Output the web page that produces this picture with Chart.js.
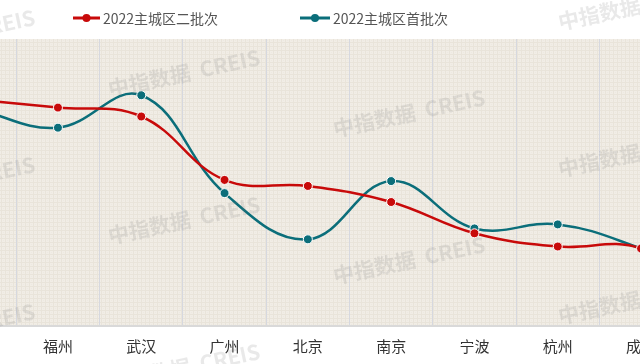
<!DOCTYPE html>
<html>
<head>
<meta charset="utf-8">
<script src="https://cdn.jsdelivr.net/npm/chart.js@4.4.1/dist/chart.umd.min.js"></script>
<style>
  body { margin: 0; overflow: hidden; background: #fff; }
  #wrap { position: absolute; left: -67px; top: 0; width: 833px; height: 364px; }
</style>
</head>
<body>
<div id="wrap"><canvas id="c" width="833" height="364"></canvas></div>
<script>
// categories (first and last sit outside the visible window)
var cities = ['合肥', '福州', '武汉', '广州', '北京', '南京', '宁波', '杭州', '成都', '重庆'];
// 2022主城区二批次
var batch2 = [78.9, 76.1, 73.0, 50.9, 48.8, 43.2, 32.3, 27.7, 27.0, 8.0];
// 2022主城区首批次
var batch1 = [75.8, 69.1, 80.4, 46.3, 30.2, 50.5, 34.0, 35.4, 27.0, 15.0];

var legendNames = ['2022主城区二批次', '2022主城区首批次'];
var SHIFT = 67; // canvas sits 67px left of the page edge

// beige woven background
function makePattern(ctx) {
  var p = document.createElement('canvas');
  p.width = 4; p.height = 4;
  var g = p.getContext('2d');
  g.fillStyle = '#F1EDE6';
  g.fillRect(0, 0, 4, 4);
  g.fillStyle = '#E9E4DA';
  g.fillRect(0, 0, 1, 4);
  g.fillRect(0, 2, 4, 1);
  g.fillStyle = '#EDE9E0';
  g.fillRect(2, 0, 1, 1);
  return ctx.createPattern(p, 'repeat');
}

const background = {
  id: 'background',
  beforeDraw(chart) {
    var ctx = chart.ctx, a = chart.chartArea;
    ctx.save();
    ctx.fillStyle = '#fff';
    ctx.fillRect(0, 0, chart.width, chart.height);
    ctx.fillStyle = makePattern(ctx);
    ctx.fillRect(a.left, a.top, a.right - a.left, a.bottom - a.top);
    ctx.restore();
  }
};

const topLegend = {
  id: 'topLegend',
  afterDraw(chart) {
    var ctx = chart.ctx;
    var starts = [73, 300];
    var widths = [27, 30];
    ctx.save();
    chart.data.datasets.forEach(function (ds, i) {
      var x = starts[i] + SHIFT, y = 18;
      ctx.strokeStyle = ds.borderColor;
      ctx.lineWidth = 3;
      ctx.beginPath();
      ctx.moveTo(x, y);
      ctx.lineTo(x + widths[i], y);
      ctx.stroke();
      ctx.fillStyle = ds.borderColor;
      ctx.beginPath();
      ctx.arc(x + widths[i] / 2, y, 4, 0, Math.PI * 2);
      ctx.fill();
      ctx.fillStyle = '#555';
      ctx.font = '14px "Noto Sans CJK SC"';
      ctx.textBaseline = 'middle';
      ctx.fillText(legendNames[i], x + widths[i] + 3, y + 1);
    });
    ctx.restore();
  }
};

const watermark = {
  id: 'watermark',
  afterDraw(chart) {
    var ctx = chart.ctx;
    ctx.save();
    ctx.fillStyle = 'rgba(120,120,120,0.16)';
    ctx.font = 'bold 21px "Noto Sans CJK SC"';
    ctx.textBaseline = 'alphabetic';
    for (var i = 0; i < 4; i++) {
      for (var j = -1; j < 3; j++) {
        var x = -115 + 225 * i + SHIFT;
        var y = 57 + 40 * i + 147 * j;
        ctx.save();
        ctx.translate(x, y);
        ctx.rotate(-12 * Math.PI / 180);
        ctx.fillText('中指数据  CREIS', 0, 0);
        ctx.restore();
      }
    }
    ctx.restore();
  }
};

var ctx_c = document.getElementById('c');
var chart = new Chart(ctx_c, {
  type: 'line',
  data: {
    labels: cities,
    datasets: [
      {
        label: legendNames[0],
        data: batch2,
        borderColor: '#C80A0A',
        backgroundColor: '#C80A0A',
        borderWidth: 2.5,
        tension: 0.4,
        fill: false,
        pointRadius: 4.5,
        pointBackgroundColor: '#C80A0A',
        pointBorderColor: '#fff',
        pointBorderWidth: 1
      },
      {
        label: legendNames[1],
        data: batch1,
        borderColor: '#0B6E7A',
        backgroundColor: '#0B6E7A',
        borderWidth: 2.5,
        tension: 0.4,
        fill: false,
        pointRadius: 4.5,
        pointBackgroundColor: '#0B6E7A',
        pointBorderColor: '#fff',
        pointBorderWidth: 1
      }
    ]
  },
  options: {
    responsive: false,
    animation: false,
    devicePixelRatio: 1,
    layout: { autoPadding: false, padding: { top: 39, bottom: -2, left: 0, right: 0 } },
    plugins: {
      legend: { display: false },
      tooltip: { enabled: false }
    },
    scales: {
      x: {
        offset: true,
        grid: { offset: true, color: '#D6D8DF', lineWidth: 1, drawTicks: false },
        border: { color: '#D9D9D9', width: 2 },
        ticks: {
          color: '#333',
          padding: 11,
          maxRotation: 0,
          autoSkip: false,
          font: { family: '"Noto Sans CJK SC"', size: 15 }
        }
      },
      y: {
        display: false,
        min: 0,
        max: 100
      }
    }
  },
  plugins: [background, watermark, topLegend]
});
</script>
</body>
</html>
